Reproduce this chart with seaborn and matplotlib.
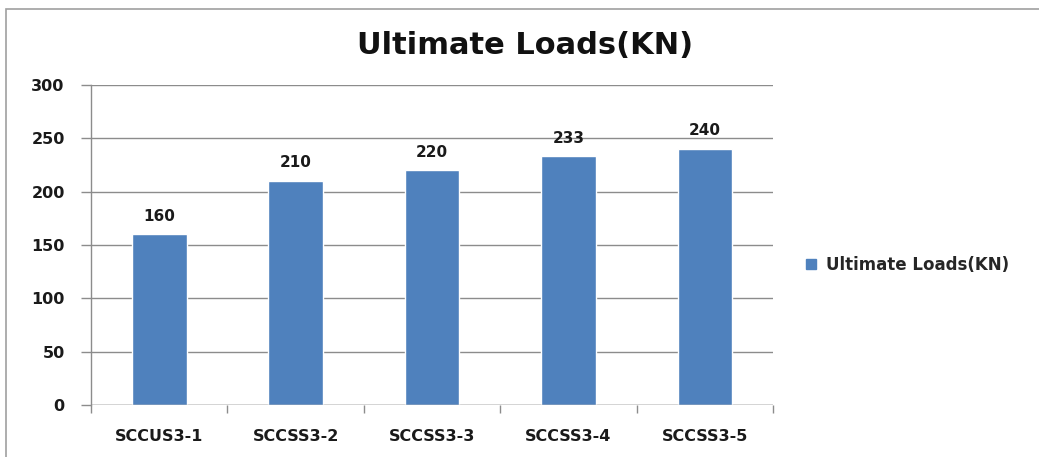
import matplotlib
matplotlib.use("Agg")
import matplotlib.pyplot as plt
from matplotlib.patches import Rectangle, Patch
import seaborn as sns
import pandas as pd

# chart data
specimens = ["SCCUS3-1", "SCCSS3-2", "SCCSS3-3", "SCCSS3-4", "SCCSS3-5"]
loads = [160, 210, 220, 233, 240]
series_name = "Ultimate Loads(KN)"

df = pd.DataFrame({"Specimen": specimens, "Load": loads})

sns.set_style("white")
plt.rcParams["font.family"] = ["DejaVu Sans"]

bar_color = "#4F81BD"
grid_color = "#8C8C8C"
text_color = "#1a1a1a"

fig = plt.figure(figsize=(10.39, 4.57), dpi=100, facecolor="white")
ax = fig.add_axes([0.0876, 0.1138, 0.6565, 0.7002])

sns.barplot(data=df, x="Specimen", y="Load", color=bar_color, width=0.4,
            saturation=1, ax=ax, zorder=3)

# value labels above bars
for i, v in enumerate(loads):
    ax.text(i, v + 10, str(v), ha="center", va="bottom", fontsize=11,
            fontweight="bold", color=text_color)

ax.set_ylim(0, 300)
ax.set_yticks(range(0, 301, 50))
ax.set_xlim(-0.5, len(specimens) - 0.5)
ax.yaxis.grid(True, color=grid_color, linewidth=1, zorder=0)
ax.set_axisbelow(True)

ax.set_xlabel("")
ax.set_ylabel("")

for side in ["top", "right", "bottom"]:
    ax.spines[side].set_visible(False)
ax.spines["left"].set_color(grid_color)
ax.spines["left"].set_linewidth(1)

# x axis line and tick marks at category boundaries
ax.axhline(0, color=grid_color, linewidth=1, zorder=4)
ax.set_xticks([i - 0.5 for i in range(len(specimens) + 1)], minor=True)
ax.tick_params(axis="x", which="minor", length=6, color=grid_color, width=1,
               direction="out", bottom=True)
ax.tick_params(axis="x", which="major", length=0, pad=17)
ax.tick_params(axis="y", which="major", length=7, color=grid_color, width=1,
               direction="out", left=True, pad=12)

for lab in ax.get_xticklabels() + ax.get_yticklabels():
    lab.set_fontsize(11.5)
    lab.set_fontweight("bold")
    lab.set_color(text_color)

fig.text(0.505, 0.90, series_name, ha="center", va="center", fontsize=22,
         fontweight="bold", color="#111111")

handle = Patch(facecolor=bar_color, edgecolor=bar_color)
fig.legend([handle], [series_name], loc="center left",
           bbox_to_anchor=(0.761, 0.42), frameon=False,
           prop={"weight": "bold", "size": 12}, handlelength=0.6,
           handleheight=0.6, handletextpad=0.6)

# outer chart border
fig.patches.append(Rectangle((6 / 1039, -0.1), 1.2, 1 - 9 / 457 + 0.1,
                             transform=fig.transFigure, fill=False,
                             edgecolor="#A0A0A0", linewidth=1.2))

fig.savefig("out.png", dpi=100, facecolor="white")
